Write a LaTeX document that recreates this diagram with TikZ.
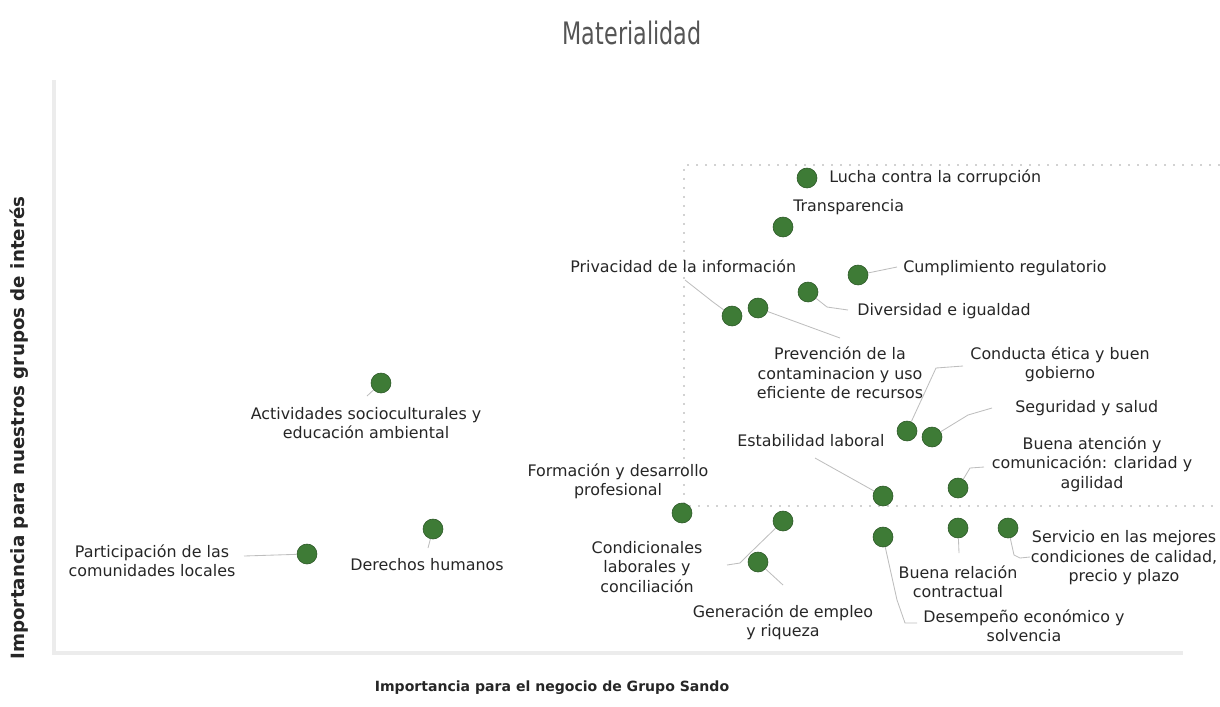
\documentclass[tikz,border=0pt]{standalone}
\usepackage{fontspec}
\setmainfont{DejaVu Sans}
\usepackage{graphicx}
\usetikzlibrary{positioning}
\definecolor{dotgreen}{HTML}{3E7B36}
\definecolor{txtgray}{HTML}{262626}
\definecolor{titlegray}{HTML}{555555}
\definecolor{framegray}{HTML}{ECECEC}
\definecolor{conngray}{HTML}{BEBEBE}

\begin{document}
\begin{tikzpicture}[x=0.025cm, y=-0.025cm,
		mdot/.style={circle, fill=dotgreen, draw=dotgreen!70!black, line width=0.4pt, minimum size=0.5cm, inner sep=0pt},
		lbl/.style={align=center, text=txtgray, font=\fontsize{11.3}{13.8}\selectfont, inner sep=0pt},
		conn/.style={draw=conngray, line width=0.6pt},
		axlbl/.style={text=txtgray, inner sep=0pt}]
				\useasboundingbox (0,0) rectangle (1220,706);
				
				% frame and the dotted box
				\draw[framegray, line width=2.2pt] (54,80) -- (54,653) -- (1183,653);
				\draw[gray!35, line width=1.3pt, dash pattern=on 1.6pt off 4.8pt] (1220,165) -- (684,165) -- (684,506) -- (1220,506);
				
				\node(title) [text=titlegray, inner sep=0pt] at (632,33) {\scalebox{0.72}[1]{\fontsize{22}{26}\selectfont Materialidad}};
				\node(yaxis) [axlbl, rotate=90, font=\bfseries\fontsize{13}{15}\selectfont] at (19,428) {Importancia para nuestros grupos de interés};
				\node(xaxis) [axlbl, font=\bfseries\fontsize{10}{12}\selectfont] at (552,688) {Importancia para el negocio de Grupo Sando};
				
				% dots
				\node(luchadot) [mdot] at (807,178) {};
				\node(transpdot) [mdot] at (783,227) {};
				\node(privdot) [mdot] at (732,316) {};
				\node(prevdot) [mdot] at (758,308) {};
				\node(divdot) [mdot] at (808,292) {};
				\node(cumpdot) [mdot] at (858,275) {};
				\node(conductdot) [mdot] at (907,431) {};
				\node(segdot) [mdot] at (932,437) {};
				\node(estabdot) [mdot] at (883,496) {};
				\node(atendot) [mdot] at (958,488) {};
				\node(formdot) [mdot] at (682,513) {};
				\node(condicdot) [mdot] at (783,521) {};
				\node(generdot) [mdot] at (758,562) {};
				\node(relacdot) [mdot] at (958,528) {};
				\node(desempdot) [mdot] at (883,537) {};
				\node(servdot) [mdot] at (1008,528) {};
				\node(activdot) [mdot] at (381,383) {};
				\node(derechdot) [mdot] at (433,529) {};
				\node(particdot) [mdot] at (307,554) {};
				
				% labels
				\node(lucha) [lbl, anchor=west] at (829,178) {Lucha contra la corrupción};
				\node(transp) [lbl, anchor=west] at (793,207) {Transparencia};
				\node(priv) [lbl, anchor=west] at (570,266) {Privacidad de la información};
				\node(cump) [lbl, anchor=west] at (903,268) {Cumplimiento regulatorio};
				\node(div) [lbl, anchor=west] at (857,311) {Diversidad e igualdad};
				\node(prev) [lbl] at (840,373) {Prevención de la\\contaminacion y uso\\eficiente de recursos};
				\node(conduct) [lbl] at (1060,364) {Conducta ética y buen\\gobierno};
				\node(seg) [lbl, anchor=west] at (1015,408) {Seguridad y salud};
				\node(estab) [lbl, anchor=west] at (737,441) {Estabilidad laboral};
				\node(aten) [lbl] at (1092,464) {Buena atención y\\comunicación: claridad y\\agilidad};
				\node(form) [lbl] at (618,481) {Formación y desarrollo\\profesional};
				\node(condic) [lbl] at (647,567) {Condicionales\\laborales y\\conciliación};
				\node(gener) [lbl] at (783,622) {Generación de empleo\\y riqueza};
				\node(relac) [lbl] at (958,582) {Buena relación\\contractual};
				\node(desemp) [lbl] at (1024,626) {Desempeño económico y\\solvencia};
				\node(serv) [lbl] at (1124,558) {Servicio en las mejores\\condiciones de calidad,\\precio y plazo};
				\node(activ) [lbl] at (366,423) {Actividades socioculturales y\\educación ambiental};
				\node(derech) [lbl] at (427,565) {Derechos humanos};
				\node(partic) [lbl] at (152,561) {Participación de las\\comunidades locales};
				
				% leader lines
				\coordinate (privend) at (685,280);
				\coordinate (prevend) at (840,338);
				\coordinate (divend) at (848,310);
				\coordinate (cumpend) at (897,267);
				\coordinate (conductend) at (963,366);
				\coordinate (segend) at (992,408);
				\coordinate (estabend) at (815,458);
				\coordinate (atenend) at (984,467);
				\coordinate (condicend) at (727,565);
				\coordinate (generend) at (783,585);
				\coordinate (relacend) at (959,553);
				\coordinate (desempend) at (917,623);
				\coordinate (servend) at (1030,557);
				\coordinate (activend) at (367,396);
				\coordinate (derechend) at (428,548);
				\coordinate (particend) at (244,556);
				
				\draw[conn] (privdot) -- (713,302) -- (privend);
				\draw[conn] (prevdot) -- (prevend);
				\draw[conn] (divdot) -- (827,307) -- (divend);
				\draw[conn] (cumpdot) -- (cumpend);
				\draw[conn] (conductdot) -- (936,368) -- (conductend);
				\draw[conn] (segdot) -- (968,415) -- (segend);
				\draw[conn] (estabdot) -- (estabend);
				\draw[conn] (atendot) -- (970,468) -- (atenend);
				\draw[conn] (condicdot) -- (750,553) -- (740,563) -- (condicend);
				\draw[conn] (generdot) -- (generend);
				\draw[conn] (relacdot) -- (relacend);
				\draw[conn] (desempdot) -- (897,600) -- (905,623) -- (desempend);
				\draw[conn] (servdot) -- (1014,555) -- (1020,558) -- (servend);
				\draw[conn] (activdot) -- (activend);
				\draw[conn] (derechdot) -- (derechend);
				\draw[conn] (particdot) -- (particend);
				
			\end{tikzpicture}
\end{document}
